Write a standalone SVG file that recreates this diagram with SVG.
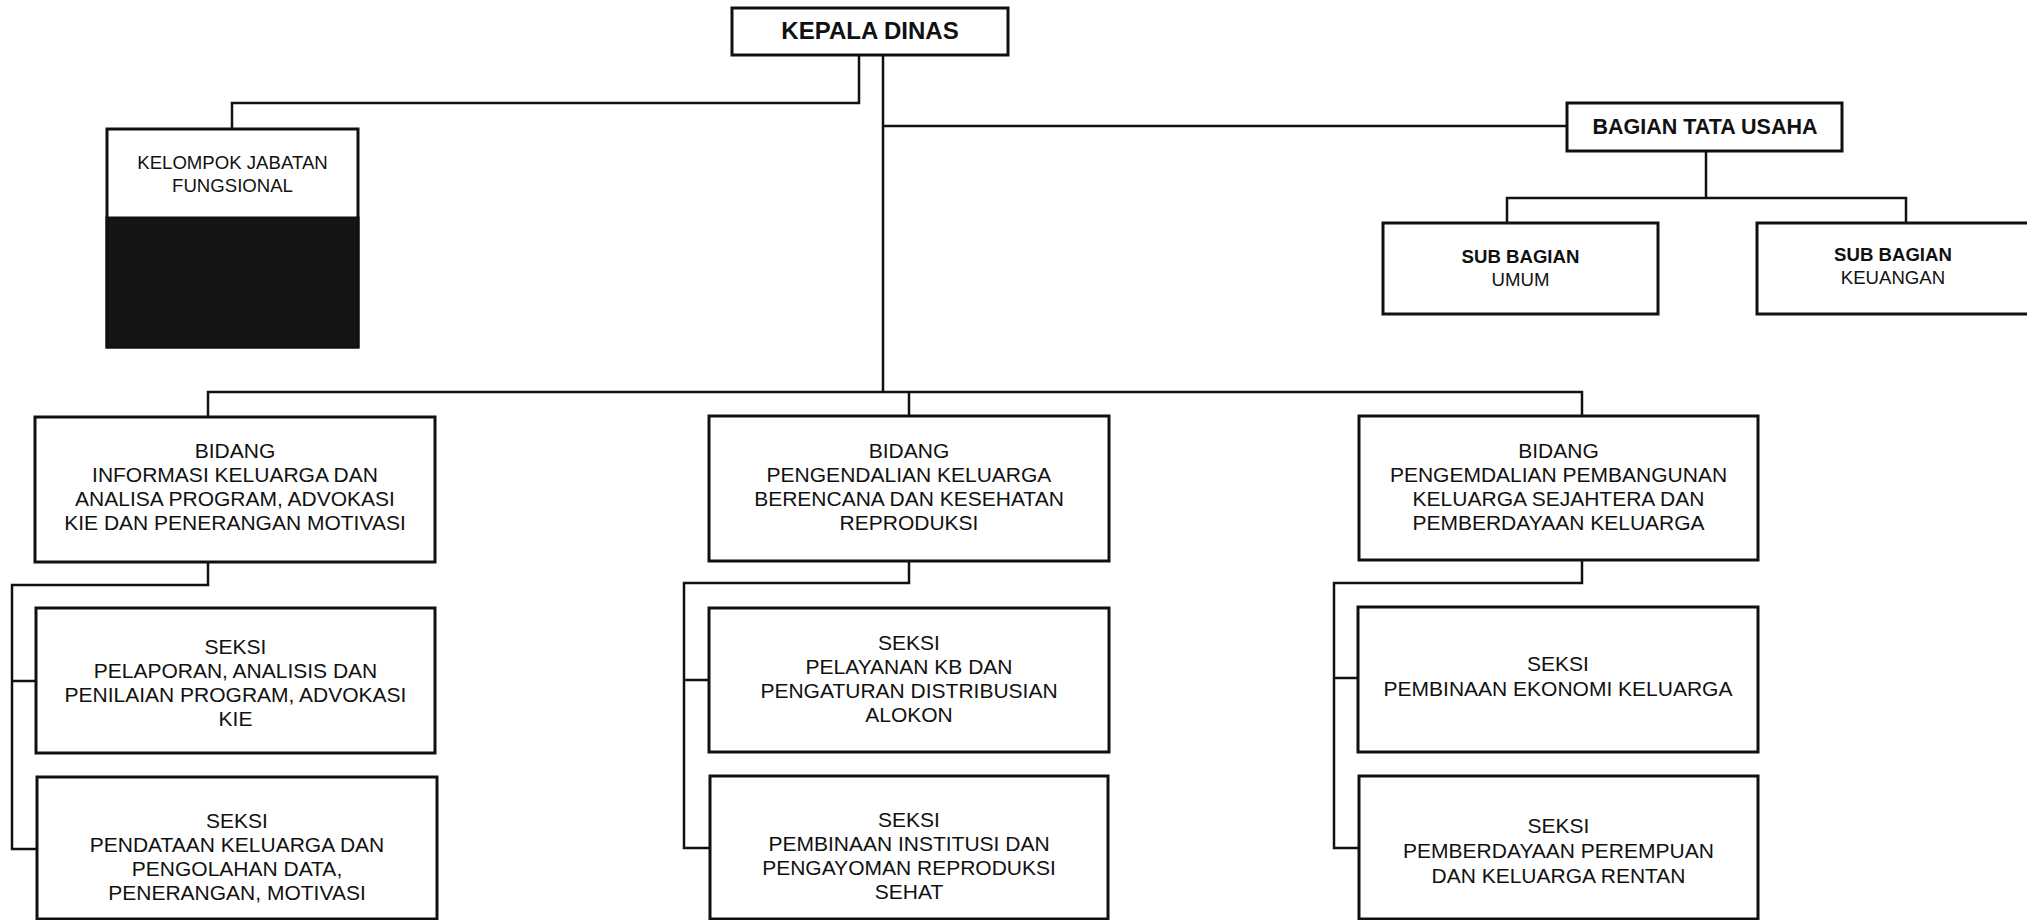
<svg xmlns="http://www.w3.org/2000/svg" width="2027" height="920" viewBox="0 0 2027 920">
<style>
.box{fill:#fff;stroke:#111;stroke-width:3}
.con{fill:none;stroke:#111;stroke-width:2.5}
text{font-family:"Liberation Sans",Arial,sans-serif;fill:#111;text-anchor:middle}
.t21{font-size:21px}
.b24{font-size:24px;font-weight:bold}
.b21{font-size:21.5px;font-weight:bold}
.s18{font-size:18.6px}
.sb18{font-size:18.6px;font-weight:bold}
</style>
<rect width="2027" height="920" fill="#fff"/>
<g id="connectors">
<path class="con" d="M859,55 V103 H232 V129"/>
<path class="con" d="M883,55 V392"/>
<path class="con" d="M883,126 H1567"/>
<path class="con" d="M208,417 V392 H1582 V416"/>
<path class="con" d="M909,392 V416"/>
<path class="con" d="M1706,151 V198"/>
<path class="con" d="M1507,223 V198 H1906 V223"/>
<path class="con" d="M208,562 V585 H12 V849 H37"/>
<path class="con" d="M12,681 H36"/>
<path class="con" d="M909,561 V583 H684 V848 H710"/>
<path class="con" d="M684,680 H709"/>
<path class="con" d="M1582,560 V583 H1334 V848 H1359"/>
<path class="con" d="M1334,678 H1358"/>
</g>
<g id="kepala-dinas">
<rect class="box" x="732" y="8" width="276" height="47"/>
<text class="b24" x="870" y="39">KEPALA DINAS</text>
</g>
<g id="kelompok-jabatan-fungsional">
<rect class="box" x="107" y="129" width="251" height="218"/>
<rect x="107" y="218" width="251" height="129" fill="#151515" stroke="#111" stroke-width="3"/>
<text class="s18" x="232.5" y="169">KELOMPOK JABATAN</text>
<text class="s18" x="232.5" y="192">FUNGSIONAL</text>
</g>
<g id="bagian-tata-usaha">
<rect class="box" x="1567" y="103" width="275" height="48"/>
<text class="b21" x="1705" y="134">BAGIAN TATA USAHA</text>
</g>
<g id="sub-bagian-umum">
<rect class="box" x="1383" y="223" width="275" height="91"/>
<text class="sb18" x="1520.5" y="263">SUB BAGIAN</text>
<text class="s18" x="1520.5" y="286">UMUM</text>
</g>
<g id="sub-bagian-keuangan">
<rect class="box" x="1757" y="223" width="272" height="91"/>
<text class="sb18" x="1893" y="261">SUB BAGIAN</text>
<text class="s18" x="1893" y="284">KEUANGAN</text>
</g>
<g id="bidang-informasi">
<rect class="box" x="35" y="417" width="400" height="145"/>
<text class="t21" x="235" y="458">BIDANG</text>
<text class="t21" x="235" y="482">INFORMASI KELUARGA DAN</text>
<text class="t21" x="235" y="506">ANALISA PROGRAM, ADVOKASI</text>
<text class="t21" x="235" y="530">KIE DAN PENERANGAN MOTIVASI</text>
</g>
<g id="bidang-pengendalian-kb">
<rect class="box" x="709" y="416" width="400" height="145"/>
<text class="t21" x="909" y="458">BIDANG</text>
<text class="t21" x="909" y="482">PENGENDALIAN KELUARGA</text>
<text class="t21" x="909" y="506">BERENCANA DAN KESEHATAN</text>
<text class="t21" x="909" y="530">REPRODUKSI</text>
</g>
<g id="bidang-pembangunan-ks">
<rect class="box" x="1359" y="416" width="399" height="144"/>
<text class="t21" x="1558.5" y="458">BIDANG</text>
<text class="t21" x="1558.5" y="482">PENGEMDALIAN PEMBANGUNAN</text>
<text class="t21" x="1558.5" y="506">KELUARGA SEJAHTERA DAN</text>
<text class="t21" x="1558.5" y="530">PEMBERDAYAAN KELUARGA</text>
</g>
<g id="seksi-pelaporan">
<rect class="box" x="36" y="608" width="399" height="145"/>
<text class="t21" x="235.5" y="654">SEKSI</text>
<text class="t21" x="235.5" y="678">PELAPORAN, ANALISIS DAN</text>
<text class="t21" x="235.5" y="702">PENILAIAN PROGRAM, ADVOKASI</text>
<text class="t21" x="235.5" y="726">KIE</text>
</g>
<g id="seksi-pendataan">
<rect class="box" x="37" y="777" width="400" height="142"/>
<text class="t21" x="237" y="828">SEKSI</text>
<text class="t21" x="237" y="852">PENDATAAN KELUARGA DAN</text>
<text class="t21" x="237" y="876">PENGOLAHAN DATA,</text>
<text class="t21" x="237" y="900">PENERANGAN, MOTIVASI</text>
</g>
<g id="seksi-pelayanan-kb">
<rect class="box" x="709" y="608" width="400" height="144"/>
<text class="t21" x="909" y="650">SEKSI</text>
<text class="t21" x="909" y="674">PELAYANAN KB DAN</text>
<text class="t21" x="909" y="698">PENGATURAN DISTRIBUSIAN</text>
<text class="t21" x="909" y="722">ALOKON</text>
</g>
<g id="seksi-pembinaan-institusi">
<rect class="box" x="710" y="776" width="398" height="143"/>
<text class="t21" x="909" y="827">SEKSI</text>
<text class="t21" x="909" y="851">PEMBINAAN INSTITUSI DAN</text>
<text class="t21" x="909" y="875">PENGAYOMAN REPRODUKSI</text>
<text class="t21" x="909" y="899">SEHAT</text>
</g>
<g id="seksi-pembinaan-ekonomi">
<rect class="box" x="1358" y="607" width="400" height="145"/>
<text class="t21" x="1558" y="671">SEKSI</text>
<text class="t21" x="1558" y="696">PEMBINAAN EKONOMI KELUARGA</text>
</g>
<g id="seksi-pemberdayaan-perempuan">
<rect class="box" x="1359" y="776" width="399" height="143"/>
<text class="t21" x="1558.5" y="833">SEKSI</text>
<text class="t21" x="1558.5" y="858">PEMBERDAYAAN PEREMPUAN</text>
<text class="t21" x="1558.5" y="883">DAN KELUARGA RENTAN</text>
</g>
</svg>
